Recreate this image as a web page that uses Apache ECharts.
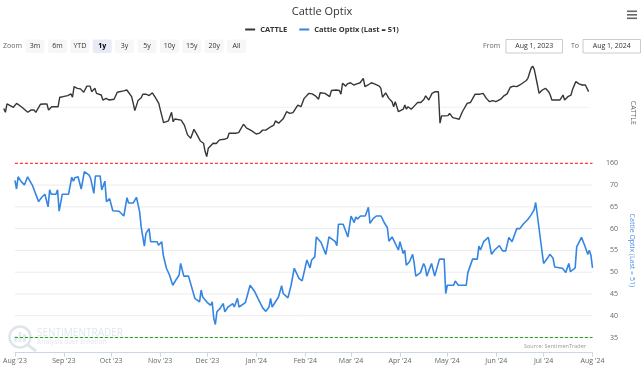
<!DOCTYPE html>
<html><head><meta charset="utf-8">
<script src="https://cdn.jsdelivr.net/npm/echarts@6/dist/echarts.min.js"></script>
<style>html,body{margin:0;padding:0;background:#fff}#c{width:644px;height:370px}</style>
</head><body><div id="c"></div>
<script>
const titleText = 'Cattle Optix';
const cattleName = 'CATTLE';
const optixName = 'Cattle Optix (Last = 51)';
const sourceText = 'Source: SentimenTrader';
const zoomButtons = ['3m','6m','YTD','1y','3y','5y','10y','15y','20y','All'];
const selectedZoom = '1y';
const fromDate = 'Aug 1, 2023';
const toDate = 'Aug 1, 2024';
const monthNames = ['Jan','Feb','Mar','Apr','May','Jun','Jul','Aug','Sep','Oct','Nov','Dec'];
const xMin = '2023-08-01';
const xMax = '2024-08-01';

const cattleDates = [
'2023-08-01','2023-08-02','2023-08-03','2023-08-05','2023-08-07','2023-08-09','2023-08-12','2023-08-16','2023-08-18','2023-08-20','2023-08-21','2023-08-24','2023-08-26','2023-08-28','2023-08-29','2023-08-31',
'2023-09-04','2023-09-05','2023-09-07','2023-09-08','2023-09-10','2023-09-12','2023-09-13','2023-09-14','2023-09-16','2023-09-18','2023-09-19','2023-09-20','2023-09-22','2023-09-24','2023-09-25','2023-09-27','2023-09-28','2023-09-29',
'2023-10-01','2023-10-02','2023-10-04','2023-10-06','2023-10-07','2023-10-09','2023-10-11','2023-10-12','2023-10-15','2023-10-17','2023-10-20','2023-10-21','2023-10-22','2023-10-24','2023-10-26','2023-10-27','2023-10-29','2023-10-31',
'2023-11-02','2023-11-04','2023-11-06','2023-11-07','2023-11-08','2023-11-09','2023-11-10','2023-11-12','2023-11-14','2023-11-15','2023-11-16','2023-11-20','2023-11-22','2023-11-24','2023-11-26','2023-11-28','2023-11-30',
'2023-12-02','2023-12-03','2023-12-04','2023-12-05','2023-12-06','2023-12-07','2023-12-10','2023-12-11','2023-12-12','2023-12-14','2023-12-17','2023-12-19','2023-12-20','2023-12-21','2023-12-24','2023-12-26','2023-12-29','2023-12-31',
'2024-01-03','2024-01-06','2024-01-08','2024-01-10','2024-01-12','2024-01-15','2024-01-17','2024-01-18','2024-01-20','2024-01-21','2024-01-23','2024-01-25','2024-01-27','2024-01-29','2024-01-30',
'2024-02-01','2024-02-03','2024-02-04','2024-02-05','2024-02-06','2024-02-08','2024-02-10','2024-02-12','2024-02-14','2024-02-15','2024-02-18','2024-02-21','2024-02-22','2024-02-25','2024-02-27','2024-02-28','2024-02-29',
'2024-03-02','2024-03-03','2024-03-04','2024-03-05','2024-03-07','2024-03-09','2024-03-11','2024-03-13','2024-03-14','2024-03-16','2024-03-18','2024-03-20','2024-03-21','2024-03-23','2024-03-24','2024-03-25','2024-03-27','2024-03-29','2024-03-31',
'2024-04-01','2024-04-02','2024-04-03','2024-04-04','2024-04-07','2024-04-08','2024-04-09','2024-04-10','2024-04-12','2024-04-14','2024-04-16','2024-04-18','2024-04-20','2024-04-21','2024-04-23','2024-04-25','2024-04-27','2024-04-29','2024-04-30',
'2024-05-01','2024-05-03','2024-05-05','2024-05-06','2024-05-08','2024-05-10','2024-05-12','2024-05-14','2024-05-15','2024-05-17','2024-05-19','2024-05-20','2024-05-22','2024-05-23','2024-05-25','2024-05-27','2024-05-29','2024-05-31',
'2024-06-02','2024-06-04','2024-06-07','2024-06-09','2024-06-11','2024-06-13','2024-06-15','2024-06-17','2024-06-19','2024-06-21','2024-06-23','2024-06-24','2024-06-26','2024-06-27','2024-06-28','2024-06-30',
'2024-07-01','2024-07-03','2024-07-05','2024-07-07','2024-07-08','2024-07-09','2024-07-12','2024-07-14','2024-07-16','2024-07-17','2024-07-19','2024-07-21','2024-07-22','2024-07-24','2024-07-26','2024-07-28','2024-07-29','2024-07-30',
'2024-08-01'
];
const cattleValues = [
179.6,178.2,181.2,180.6,180.0,181.4,180.2,178.2,179.0,179.0,178.2,181.1,181.2,181.2,179.0,180.2,
180.2,183.6,183.8,184.4,184.2,184.8,183.6,187.4,186.8,186.6,186.8,185.4,187.6,187.6,185.6,186.8,185.0,184.8,
184.4,182.6,183.2,182.6,183.2,182.9,185.4,186.0,185.9,186.2,183.8,181.4,178.8,182.4,183.4,184.7,184.7,184.2,
185.2,183.4,181.4,179.0,179.3,174.5,174.8,175.1,178.2,174.8,175.8,175.4,173.6,170.1,168.9,172.1,170.1,
167.9,168.3,167.1,164.1,162.3,165.3,167.1,167.6,167.0,168.3,168.5,168.9,170.7,170.1,170.7,170.9,173.9,172.5,
171.6,170.4,170.7,171.8,171.8,173.0,173.6,175.1,174.3,174.3,176.0,178.4,177.8,178.1,177.6,
180.8,180.2,180.2,183.2,182.6,185.0,184.8,184.1,182.9,185.2,185.0,183.8,186.0,186.2,186.0,184.7,188.6,
187.6,188.4,187.8,188.8,188.0,188.4,188.8,190.4,187.4,188.0,188.8,188.4,188.6,187.6,186.8,183.6,185.2,183.2,182.0,
180.2,182.0,181.4,178.4,179.3,180.8,179.3,180.2,179.3,180.5,181.7,181.7,182.9,184.1,182.6,185.0,185.6,185.6,174.3,
176.9,176.9,177.0,177.8,176.3,176.0,175.7,178.4,179.0,181.4,181.7,182.0,184.7,184.1,184.7,185.0,183.2,182.0,
182.4,182.0,182.9,184.1,184.8,187.2,187.6,187.4,188.0,188.8,189.6,190.4,194.0,194.8,193.6,188.0,
185.0,186.2,186.8,185.6,184.4,182.6,182.6,182.6,184.4,182.6,183.8,184.4,186.5,189.2,188.4,188.0,187.4,188.0,
185.6
];

const optixDates = [
'2023-08-01','2023-08-02','2023-08-03','2023-08-05','2023-08-07','2023-08-09','2023-08-12','2023-08-14','2023-08-16','2023-08-18','2023-08-20','2023-08-22','2023-08-23','2023-08-24','2023-08-27','2023-08-28','2023-08-29','2023-08-31',
'2023-09-04','2023-09-06','2023-09-07','2023-09-08','2023-09-10','2023-09-12','2023-09-14','2023-09-17','2023-09-18','2023-09-20','2023-09-21','2023-09-24','2023-09-25','2023-09-27','2023-09-28','2023-09-30',
'2023-10-02','2023-10-06','2023-10-09','2023-10-11','2023-10-12','2023-10-15','2023-10-17','2023-10-19','2023-10-20','2023-10-22','2023-10-23','2023-10-25','2023-10-26','2023-10-30','2023-10-31',
'2023-11-02','2023-11-03','2023-11-05','2023-11-07','2023-11-08','2023-11-09','2023-11-11','2023-11-13','2023-11-14','2023-11-16','2023-11-19','2023-11-23','2023-11-26','2023-11-27','2023-11-28',
'2023-12-01','2023-12-03','2023-12-04','2023-12-05','2023-12-06','2023-12-07','2023-12-09','2023-12-11','2023-12-12','2023-12-14','2023-12-17','2023-12-18','2023-12-20','2023-12-21','2023-12-25','2023-12-26','2023-12-28','2023-12-31',
'2024-01-02','2024-01-03','2024-01-05','2024-01-07','2024-01-09','2024-01-10','2024-01-11','2024-01-15','2024-01-17','2024-01-18','2024-01-21','2024-01-23','2024-01-25','2024-01-28','2024-01-29','2024-01-30',
'2024-02-02','2024-02-04','2024-02-05','2024-02-07','2024-02-08','2024-02-11','2024-02-14','2024-02-16','2024-02-20','2024-02-21','2024-02-22','2024-02-25','2024-02-28',
'2024-03-01','2024-03-03','2024-03-04','2024-03-05','2024-03-07','2024-03-10','2024-03-12','2024-03-13','2024-03-15','2024-03-17','2024-03-20','2024-03-22','2024-03-24','2024-03-25','2024-03-27','2024-03-28','2024-03-31',
'2024-04-01','2024-04-03','2024-04-04','2024-04-05','2024-04-07','2024-04-09','2024-04-10','2024-04-11','2024-04-14','2024-04-16','2024-04-17','2024-04-18','2024-04-21','2024-04-23','2024-04-26','2024-04-29','2024-04-30',
'2024-05-01','2024-05-05','2024-05-06','2024-05-08','2024-05-13','2024-05-14','2024-05-15','2024-05-17','2024-05-20','2024-05-21','2024-05-22','2024-05-24','2024-05-27','2024-05-29','2024-05-31',
'2024-06-03','2024-06-05','2024-06-07','2024-06-09','2024-06-11','2024-06-14','2024-06-16','2024-06-18','2024-06-19','2024-06-21','2024-06-23','2024-06-25','2024-06-26','2024-06-27',
'2024-07-01','2024-07-02','2024-07-04','2024-07-05','2024-07-07','2024-07-08','2024-07-11','2024-07-13','2024-07-15','2024-07-17','2024-07-18','2024-07-21','2024-07-22','2024-07-23','2024-07-25','2024-07-27','2024-07-29','2024-07-30','2024-07-31',
'2024-08-01'
];
const optixValues = [
71.1,69.1,71.9,70.8,70.0,71.9,70.0,68.1,66.2,67.2,67.9,65.0,68.9,67.9,67.9,68.9,64.0,67.9,
67.9,71.8,70.9,71.7,71.9,69.1,73.1,72.3,71.5,68.1,72.1,72.1,68.9,70.9,66.2,66.9,
64.1,64.0,62.9,67.1,65.9,65.9,67.2,63.9,60.4,56.0,58.9,60.0,57.0,57.0,56.2,
57.0,53.9,50.9,49.3,49.7,47.0,48.2,49.3,52.0,49.1,49.1,44.0,43.2,45.9,44.3,
43.0,42.4,43.2,39.4,38.0,40.9,41.7,42.8,40.9,42.0,42.8,42.0,44.0,42.0,43.0,44.3,47.0,45.5,
44.0,43.8,41.8,41.0,42.0,44.0,42.0,44.3,46.9,45.1,44.1,47.0,50.9,48.6,48.9,48.0,
52.8,51.0,52.8,53.5,58.1,56.8,54.1,58.1,57.0,56.1,61.0,61.0,58.1,
62.9,61.4,62.7,62.2,62.9,62.9,64.9,61.2,62.3,62.9,62.9,61.4,60.2,57.1,58.1,57.9,55.1,
57.0,54.3,55.1,51.6,52.4,54.1,52.1,49.1,49.9,52.0,51.2,49.1,52.0,49.1,53.0,53.0,45.1,
47.0,47.0,48.0,47.0,47.0,49.9,50.2,53.0,53.0,56.0,55.1,57.0,58.0,54.1,55.1,
56.1,54.9,54.9,58.0,57.0,60.0,60.0,61.0,61.0,62.1,63.1,64.3,66.0,66.0,
52.0,52.0,53.5,54.1,53.2,51.2,51.0,50.9,49.9,52.0,50.1,51.0,55.8,56.0,58.0,56.2,54.1,55.0,53.9,
51.0
];

const cattleAxisMin = 160, cattleAxisMax = 196;
const optixAxisMin = 30, optixAxisMax = 75;
const cattleGridValues = [180];
const optixGridValues = [35, 40, 45, 50, 55, 60, 65, 70];
const optixUpperLine = 75;
const optixLowerLine = 35;

const FONT = '"Open Sans", "DejaVu Sans", sans-serif';
const DAY = 86400000;
const cattleColor = '#363636';
const optixColor = '#3585e3';

function monthLabel(v) {
  const d = new Date(v);
  if (d.getDate() !== 1) return '';
  return monthNames[d.getMonth()] + " '" + String(d.getFullYear()).slice(2);
}
function txt(x, y, text, extra) {
  return {type: 'text', x: x, y: y, silent: true,
    style: Object.assign({text: text, fontFamily: FONT, fontSize: 7, fill: '#333',
      align: 'left', textAlign: 'left', verticalAlign: 'middle', textVerticalAlign: 'middle'}, extra || {})};
}

const graphics = [];
graphics.push(txt(3, 46, 'Zoom', {fill: '#666'}));
zoomButtons.forEach(function (b, i) {
  const sel = b === selectedZoom;
  const x0 = 25.5 + i * 22.4;
  graphics.push({type: 'rect', silent: true, shape: {x: x0, y: 39.5, width: 19, height: 13.5, r: 2}, style: {fill: sel ? '#e6ebf5' : '#f7f7f7'}});
  graphics.push(txt(x0 + 9.5, 46.3, b, {align: 'center', textAlign: 'center', fill: sel ? '#000' : '#333', fontWeight: sel ? 'bold' : 'normal'}));
});
graphics.push(txt(483, 46, 'From', {fill: '#666'}));
graphics.push({type: 'rect', silent: true, shape: {x: 506, y: 39.5, width: 56.5, height: 13.5}, style: {fill: '#fff', stroke: '#cccccc', lineWidth: 1}});
graphics.push(txt(534.2, 46.3, fromDate, {align: 'center', textAlign: 'center'}));
graphics.push(txt(571, 46, 'To', {fill: '#666'}));
graphics.push({type: 'rect', silent: true, shape: {x: 583, y: 39.5, width: 57.5, height: 13.5}, style: {fill: '#fff', stroke: '#cccccc', lineWidth: 1}});
graphics.push(txt(611.7, 46.3, toDate, {align: 'center', textAlign: 'center'}));
[10.5, 14, 17.5].forEach(function (yy) {
  graphics.push({type: 'rect', silent: true, shape: {x: 627, y: yy, width: 10, height: 1.6}, style: {fill: '#666'}});
});
// watermark
graphics.push({type: 'circle', silent: true, z: -1, shape: {cx: 20, cy: 337, r: 10.5}, style: {fill: 'none', stroke: '#dfe5ec', lineWidth: 2.5}});
[[14, 336, 3, 6], [18.5, 332, 3, 10], [23, 334, 3, 8]].forEach(function (r) {
  graphics.push({type: 'rect', silent: true, z: -1, shape: {x: r[0], y: r[1], width: r[2], height: r[3]}, style: {fill: '#e6ebf1'}});
});
graphics.push({type: 'line', silent: true, z: -1, shape: {x1: 28, y1: 345, x2: 36, y2: 351}, style: {stroke: '#dfe5ec', lineWidth: 3}});
graphics.push(txt(37, 333.5, 'SENTIMENTRADER', {fill: '#e1e7ee', fontSize: 10}));
graphics.push(txt(37, 342.5, 'Analysis over Emotion', {fill: '#e1e7ee', fontSize: 6.8}));
graphics.push(txt(586, 346, sourceText, {fill: '#999', fontSize: 5.5, align: 'right', textAlign: 'right'}));

// horizontal reference lines drawn as two-point line series spanning the x range
function hLine(name, xi, yi, value, color, dash, z, width) {
  return {type: 'line', name: name, xAxisIndex: xi, yAxisIndex: yi, z: z, silent: true,
    showSymbol: false, symbol: 'none', animation: false, clip: false,
    data: [[xMin, value], [xMax, value]],
    lineStyle: {color: color, width: width || 1, type: dash ? [3, 2] : 'solid'},
    itemStyle: {color: color}, emphasis: {disabled: true}, tooltip: {show: false}};
}

const series = [];
cattleGridValues.forEach(function (v, i) { series.push(hLine('cattleGrid' + i, 0, 0, v, '#f0f0f0', false, 1)); });
optixGridValues.forEach(function (v, i) { series.push(hLine('optixGrid' + i, 1, 1, v, '#ebebeb', false, 1)); });
series.push(hLine('optixUpper', 1, 1, optixUpperLine, '#ff3c3c', true, 2, 1.2));
series.push(hLine('optixLower', 1, 1, optixLowerLine, '#1fa51f', true, 2, 1.2));
series.push({type: 'line', name: cattleName, xAxisIndex: 0, yAxisIndex: 0, z: 3, showSymbol: false, symbol: 'none',
  data: cattleDates.map(function (d, i) { return [d, cattleValues[i]]; }),
  lineStyle: {color: cattleColor, width: 1.4}, itemStyle: {color: cattleColor}});
series.push({type: 'line', name: optixName, xAxisIndex: 1, yAxisIndex: 1, z: 3, showSymbol: false, symbol: 'none',
  data: optixDates.map(function (d, i) { return [d, optixValues[i]]; }),
  lineStyle: {color: optixColor, width: 1.6}, itemStyle: {color: optixColor}});

const option = {
  animation: false,
  title: {text: titleText, left: 'center', top: 1, textStyle: {fontFamily: FONT, fontSize: 11, fontWeight: 'normal', color: '#333'}},
  legend: {top: 20.5, left: 'center', itemWidth: 10, itemHeight: 2, itemGap: 12, icon: 'rect',
    data: [cattleName, optixName],
    textStyle: {fontFamily: FONT, fontSize: 7.5, fontWeight: 'bold', color: '#333'}},
  grid: [
    {left: 3.8, right: 51.5, top: 62.7, height: 100.3},
    {left: 3.8, right: 51.5, top: 163.3, height: 196}
  ],
  xAxis: [
    {type: 'time', gridIndex: 0, min: xMin, max: xMax, show: false},
    {type: 'time', gridIndex: 1, min: xMin, max: xMax, offset: -6.6, splitNumber: 12,
      minInterval: 28 * DAY, maxInterval: 31 * DAY,
      axisLine: {lineStyle: {color: '#ccd6eb', width: 1}},
      axisTick: {show: true, length: 4, lineStyle: {color: '#ccd6eb'}},
      axisLabel: {formatter: monthLabel, fontFamily: FONT, fontSize: 7, color: '#666', margin: 4.5, alignMinLabel: 'left', hideOverlap: false},
      splitLine: {show: false}}
  ],
  yAxis: [
    {type: 'value', gridIndex: 0, position: 'right', min: cattleAxisMin, max: cattleAxisMax, interval: 40,
      splitLine: {show: false}, axisLine: {show: false}, axisTick: {show: false},
      axisLabel: {showMaxLabel: false, fontFamily: FONT, fontSize: 7, color: '#666', margin: 17.5, align: 'left', padding: [0, 0, 6, 0]},
      name: cattleName, nameLocation: 'middle', nameRotate: -90, nameGap: 37,
      nameTextStyle: {fontFamily: FONT, fontSize: 7, color: '#666'}},
    {type: 'value', gridIndex: 1, position: 'right', min: optixAxisMin, max: optixAxisMax, interval: 5,
      splitLine: {show: false}, axisLine: {show: false}, axisTick: {show: false},
      axisLabel: {showMinLabel: false, showMaxLabel: false, fontFamily: FONT, fontSize: 7, color: '#666', margin: 17.5, align: 'left', padding: [0, 0, 6, 0]},
      name: optixName, nameLocation: 'middle', nameRotate: -90, nameGap: 34,
      nameTextStyle: {fontFamily: FONT, fontSize: 7, color: '#4a90e2', padding: [0, 22, 0, 0]}}
  ],
  series: series,
  graphic: {elements: graphics}
};
const chart = echarts.init(document.getElementById('c'), null, {renderer: 'canvas'});
chart.setOption(option);
</script>
</body></html>
